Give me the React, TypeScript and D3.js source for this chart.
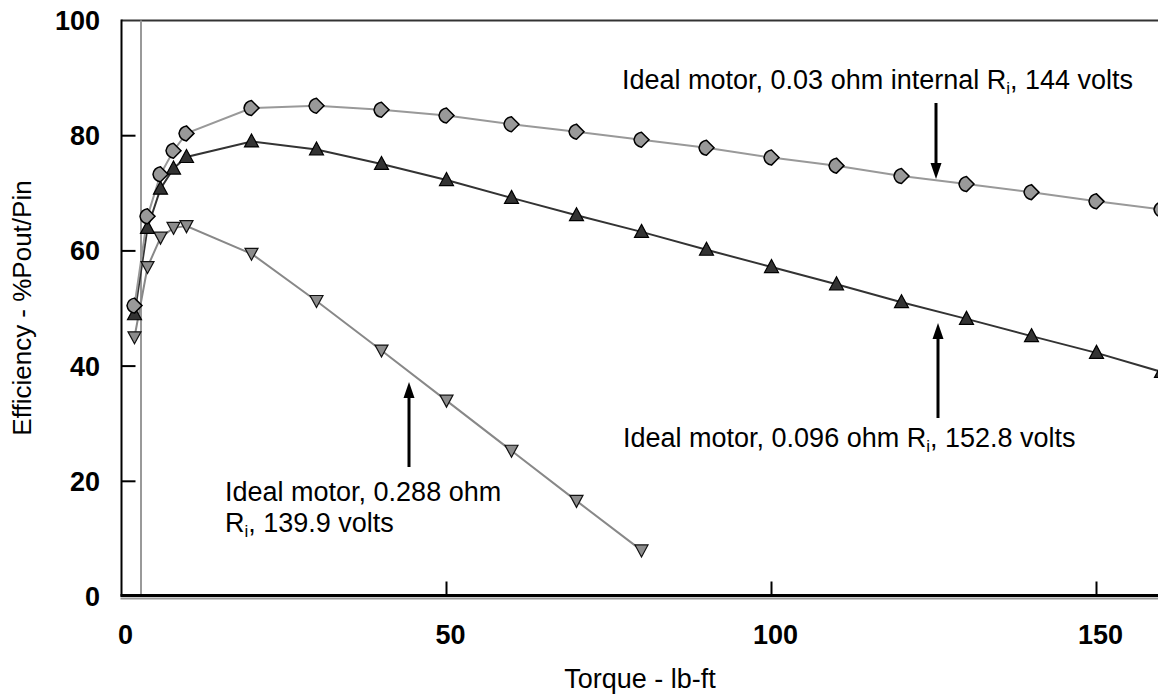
import React from "react";
import * as d3 from "d3";

const torqueA = [2, 4, 6, 8, 10, 20, 30, 40, 50, 60, 70, 80, 90, 100, 110, 120, 130, 140, 150, 160];
const effA = [50.5, 66, 73.3, 77.4, 80.4, 84.8, 85.2, 84.5, 83.5, 82, 80.7, 79.3, 77.9, 76.2, 74.8, 73, 71.6, 70.2, 68.6, 67.2];
const torqueB = [2, 4, 6, 8, 10, 20, 30, 40, 50, 60, 70, 80, 90, 100, 110, 120, 130, 140, 150, 160];
const effB = [49, 64, 70.8, 74.3, 76.3, 79, 77.6, 75.1, 72.3, 69.2, 66.2, 63.3, 60.2, 57.2, 54.2, 51.1, 48.2, 45.2, 42.3, 39];
const torqueC = [2, 4, 6, 8, 10, 20, 30, 40, 50, 60, 70, 80];
const effC = [45, 57.2, 62.3, 64, 64.3, 59.5, 51.3, 42.7, 34, 25.3, 16.6, 8];
const xTicks = [0, 50, 100, 150];
const yTicks = [0, 20, 40, 60, 80, 100];
const refTorque = 3;

const W = 1158;
const H = 700;
const FONT = "'Liberation Sans', Arial, sans-serif";

export default function App() {
  const x = d3.scaleLinear().domain([0, 160]).range([121.5, 121.5 + 1040]);
  const y = d3.scaleLinear().domain([0, 100]).range([596.5, 20.5]);
  const line = d3
    .line<[number, number]>()
    .x((d) => x(d[0]))
    .y((d) => y(d[1]));
  const ptsA = torqueA.map((t, i) => [t, effA[i]] as [number, number]);
  const ptsB = torqueB.map((t, i) => [t, effB[i]] as [number, number]);
  const ptsC = torqueC.map((t, i) => [t, effC[i]] as [number, number]);

  const diamond = "M-7.5,0 Q-6.5,-6.5 0,-7.5 L7.5,0 L0,7.5 Q-6.5,6.5 -7.5,0 Z";
  const triUp = "M0,-7.5 L7,5.5 L-7,5.5 Z";
  const triDown = "M0,6.5 L6.5,-5.5 L-6.5,-5.5 Z";

  const arrow = (xx: number, y1: number, y2: number, key: string) => {
    const dir = y2 > y1 ? 1 : -1;
    const headLen = 16;
    return (
      <g key={key}>
        <line x1={xx} y1={y1} x2={xx} y2={y2 - dir * headLen} stroke="#000" strokeWidth={3} />
        <path
          d={`M${xx},${y2} L${xx - 5.5},${y2 - dir * headLen} L${xx + 5.5},${y2 - dir * headLen} Z`}
          fill="#000"
        />
      </g>
    );
  };

  const x0 = x(0);
  const xEnd = W;
  const FS = 27;

  return (
    <div style={{ position: "fixed", left: 0, top: 0, width: W, height: H, overflow: "hidden", background: "#fff" }}>
      <svg width={W} height={H} style={{ display: "block" }} fontFamily={FONT}>
        <rect width={W} height={H} fill="#fff" />
        {/* frame */}
        <line x1={x0} y1={y(100)} x2={xEnd} y2={y(100)} stroke="#333" strokeWidth={2} />
        <line x1={x0} y1={y(100) - 1} x2={x0} y2={y(0)} stroke="#000" strokeWidth={2} />
        <line x1={x(refTorque)} y1={y(100)} x2={x(refTorque)} y2={y(0)} stroke="#999" strokeWidth={2} />
        {/* y ticks */}
        {yTicks.map((t) => (
          <g key={"yt" + t}>
            {t > 0 && t < 100 && <line x1={x0} x2={x0 + 14} y1={y(t)} y2={y(t)} stroke="#000" strokeWidth={2} />}
            <text x={100} y={y(t)} dy="0.35em" textAnchor="end" fontSize={FS} fontWeight="bold" fill="#000">
              {t}
            </text>
          </g>
        ))}
        {/* x ticks */}
        {xTicks.map((t) => (
          <g key={"xt" + t}>
            {t > 0 && <line x1={x(t)} x2={x(t)} y1={y(0) - 15} y2={y(0)} stroke="#000" strokeWidth={2} />}
            <text x={x(t) + 4} y={644} textAnchor="middle" fontSize={FS} fontWeight="bold" fill="#000">
              {t}
            </text>
          </g>
        ))}
        {/* bottom axis */}
        <line x1={x0 - 1} y1={y(0) + 2} x2={xEnd} y2={y(0) + 2} stroke="#999" strokeWidth={2} />
        <line x1={x0 - 1} y1={y(0) - 1} x2={xEnd} y2={y(0) - 1} stroke="#000" strokeWidth={3} />

        {/* series lines */}
        <path d={line(ptsC) || ""} fill="none" stroke="#888" strokeWidth={2} />
        <path d={line(ptsB) || ""} fill="none" stroke="#333" strokeWidth={2} />
        <path d={line(ptsA) || ""} fill="none" stroke="#999" strokeWidth={2} />

        {ptsC.map((p, i) => (
          <path key={"c" + i} d={triDown} transform={`translate(${x(p[0])},${y(p[1])})`} fill="#8c8c8c" stroke="#111" strokeWidth={1.2} />
        ))}
        {ptsB.map((p, i) => (
          <path key={"b" + i} d={triUp} transform={`translate(${x(p[0])},${y(p[1])})`} fill="#333" stroke="#000" strokeWidth={1.2} />
        ))}
        {ptsA.map((p, i) => (
          <path key={"a" + i} d={diamond} transform={`translate(${x(p[0])},${y(p[1])})`} fill="#999" stroke="#000" strokeWidth={1.5} />
        ))}

        {/* annotations */}
        <text x={622} y={89} fontSize={FS} fill="#000">
          Ideal motor, 0.03 ohm internal R<tspan fontSize={17} dy={5}>i</tspan>
          <tspan dy={-5}>, 144 volts</tspan>
        </text>
        {arrow(936, 103, 179, "a1")}

        <text x={623} y={447} fontSize={FS} fill="#000">
          Ideal motor, 0.096 ohm R<tspan fontSize={17} dy={5}>i</tspan>
          <tspan dy={-5}>, 152.8 volts</tspan>
        </text>
        {arrow(938, 418, 323, "a2")}

        <text x={225} y={501} fontSize={FS} fill="#000">
          Ideal motor, 0.288 ohm
        </text>
        <text x={225} y={532} fontSize={FS} fill="#000">
          R<tspan fontSize={17} dy={5}>i</tspan>
          <tspan dy={-5}>, 139.9 volts</tspan>
        </text>
        {arrow(409, 467, 382, "a3")}

        {/* axis titles */}
        <text x={640} y={688} textAnchor="middle" fontSize={FS} fill="#000">
          Torque - lb-ft
        </text>
        <text
          transform={`translate(31,308) rotate(-90)`}
          textAnchor="middle"
          fontSize={26}
          fill="#000"
        >
          Efficiency - %Pout/Pin
        </text>
      </svg>
    </div>
  );
}
